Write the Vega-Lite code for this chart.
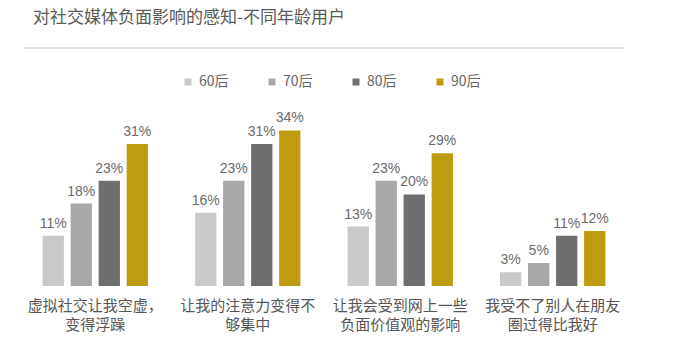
{
  "$schema": "https://vega.github.io/schema/vega-lite/v6.json",
  "autosize": {"type": "none"},
  "width": 600,
  "height": 238,
  "padding": {"left": 24, "top": 48, "right": 54, "bottom": 70},
  "background": "white",
  "config": {"view": {"stroke": null}, "font": "Noto Sans CJK SC"},
  "title": {
    "text": "对社交媒体负面影响的感知-不同年龄用户",
    "anchor": "start",
    "frame": "group",
    "fontSize": 17,
    "fontWeight": "normal",
    "color": "#595959",
    "baseline": "bottom",
    "offset": 3,
    "dx": 9
  },
  "data": {
    "values": [
      {"item": "虚拟社交让我空虚，\n变得浮躁", "age": "60后", "value": 0.11},
      {"item": "虚拟社交让我空虚，\n变得浮躁", "age": "70后", "value": 0.18},
      {"item": "虚拟社交让我空虚，\n变得浮躁", "age": "80后", "value": 0.23},
      {"item": "虚拟社交让我空虚，\n变得浮躁", "age": "90后", "value": 0.31},
      {"item": "让我的注意力变得不\n够集中", "age": "60后", "value": 0.16},
      {"item": "让我的注意力变得不\n够集中", "age": "70后", "value": 0.23},
      {"item": "让我的注意力变得不\n够集中", "age": "80后", "value": 0.31},
      {"item": "让我的注意力变得不\n够集中", "age": "90后", "value": 0.34},
      {"item": "让我会受到网上一些\n负面价值观的影响", "age": "60后", "value": 0.13},
      {"item": "让我会受到网上一些\n负面价值观的影响", "age": "70后", "value": 0.23},
      {"item": "让我会受到网上一些\n负面价值观的影响", "age": "80后", "value": 0.20},
      {"item": "让我会受到网上一些\n负面价值观的影响", "age": "90后", "value": 0.29},
      {"item": "我受不了别人在朋友\n圈过得比我好", "age": "60后", "value": 0.03},
      {"item": "我受不了别人在朋友\n圈过得比我好", "age": "70后", "value": 0.05},
      {"item": "我受不了别人在朋友\n圈过得比我好", "age": "80后", "value": 0.11},
      {"item": "我受不了别人在朋友\n圈过得比我好", "age": "90后", "value": 0.12}
    ]
  },
  "encoding": {
    "x": {
      "field": "item",
      "type": "nominal",
      "sort": null,
      "scale": {"paddingInner": 0.309, "paddingOuter": 0.122},
      "axis": {
        "title": null,
        "domain": false,
        "ticks": false,
        "labelAngle": 0,
        "labelExpr": "split(datum.label, '\\n')",
        "labelFontSize": 15,
        "labelLineHeight": 19,
        "labelColor": "#555555",
        "labelPadding": 12,
        "labelLimit": 300
      }
    },
    "xOffset": {
      "field": "age",
      "type": "nominal",
      "sort": ["60后", "70后", "80后", "90后"],
      "scale": {"paddingInner": 0.24, "paddingOuter": 0}
    },
    "y": {
      "field": "value",
      "type": "quantitative",
      "scale": {"domain": [0, 0.52]},
      "axis": null
    }
  },
  "layer": [
    {
      "data": {"values": [{"v": 0.52}]},
      "mark": {"type": "rule", "color": "#d4d4d4", "strokeWidth": 1.5},
      "encoding": {
        "x": null,
        "xOffset": null,
        "y": {"field": "v", "type": "quantitative", "scale": {"domain": [0, 0.52]}, "axis": null}
      }
    },
    {
      "mark": {"type": "bar"},
      "encoding": {
        "color": {
          "field": "age",
          "type": "nominal",
          "sort": ["60后", "70后", "80后", "90后"],
          "scale": {"domain": ["60后", "70后", "80后", "90后"], "range": ["#c9c9c9", "#a8a8a8", "#6f6f6f", "#bf9b12"]},
          "legend": {
            "title": null,
            "orient": "none",
            "direction": "horizontal",
            "legendX": 157,
            "legendY": 27,
            "symbolType": "square",
            "symbolSize": 49,
            "symbolStrokeWidth": 0,
            "labelFontSize": 14,
            "labelColor": "#666666",
            "labelOffset": 4,
            "columnPadding": 36
          }
        }
      }
    },
    {
      "mark": {"type": "text", "dy": -5, "baseline": "bottom", "fontSize": 14, "color": "#6b6b6b", "font": "Liberation Sans"},
      "encoding": {
        "text": {"field": "value", "type": "quantitative", "format": ".0%"}
      }
    }
  ]
}
